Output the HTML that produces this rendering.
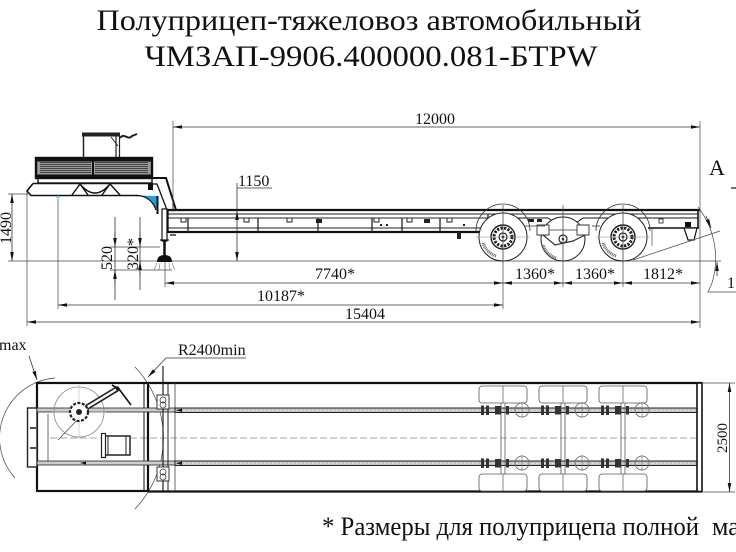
<!DOCTYPE html>
<html><head><meta charset="utf-8">
<style>
html,body{margin:0;padding:0;background:#fff;}
svg{display:block;}
text{font-family:"Liberation Serif","Times New Roman","DejaVu Serif",serif;}
.d{stroke:#333;stroke-width:0.8;fill:none;}
.e{stroke:#444;stroke-width:0.7;fill:none;}
.k{stroke:#111;fill:none;}
.t{font-size:16px;fill:#111;}
</style></head><body>
<svg width="736" height="552" viewBox="0 0 736 552" xmlns="http://www.w3.org/2000/svg" font-family="'Liberation Serif', 'Times New Roman', serif">
<defs>
<marker id="ar" viewBox="0 0 10 4" refX="10" refY="2" markerWidth="10" markerHeight="3.6" markerUnits="userSpaceOnUse" orient="auto-start-reverse"><path d="M0,0L10,2L0,4z" fill="#111"/></marker>
</defs>

<!-- Title -->
<text x="369" y="30" text-anchor="middle" font-family="'Liberation Serif', serif" font-size="30" textLength="545" lengthAdjust="spacingAndGlyphs" fill="#111">Полуприцеп-тяжеловоз автомобильный</text>
<text x="371" y="66" text-anchor="middle" font-family="'Liberation Serif', serif" font-size="30" textLength="453" lengthAdjust="spacingAndGlyphs" fill="#111">ЧМЗАП-9906.400000.081-БТРW</text>

<!-- ================= SIDE VIEW ================= -->
<line x1="8" y1="261" x2="721" y2="261" class="e"/>

<!-- handle on top -->
<rect x="82" y="132.5" width="38" height="4" fill="#222"/>
<line x1="83.5" y1="136" x2="83.5" y2="158" stroke="#222" stroke-width="1.5"/>
<line x1="116" y1="136" x2="116" y2="158" stroke="#222" stroke-width="1.2"/>
<line x1="119.5" y1="136" x2="119.5" y2="158" stroke="#222" stroke-width="1.2"/>
<path d="M111,137 L118,146" stroke="#222" stroke-width="1"/>
<path d="M120,138 C124,132 128,141 132,136 L137,134" stroke="#222" stroke-width="2" fill="none"/>

<!-- equipment block -->
<rect x="36" y="158" width="116" height="20" fill="#9a9a9a" stroke="#111" stroke-width="2.4"/>
<g stroke="#444" stroke-width="0.9">
<line x1="40" y1="162.5" x2="91" y2="162.5"/><line x1="40" y1="164.5" x2="91" y2="164.5"/><line x1="40" y1="166.5" x2="91" y2="166.5"/><line x1="40" y1="168.5" x2="91" y2="168.5"/><line x1="40" y1="170.5" x2="91" y2="170.5"/><line x1="40" y1="172.5" x2="91" y2="172.5"/>
<line x1="95" y1="162.5" x2="148" y2="162.5"/><line x1="95" y1="164.5" x2="148" y2="164.5"/><line x1="95" y1="166.5" x2="148" y2="166.5"/><line x1="95" y1="168.5" x2="148" y2="168.5"/><line x1="95" y1="170.5" x2="148" y2="170.5"/><line x1="95" y1="172.5" x2="148" y2="172.5"/>
</g>
<rect x="36" y="158" width="116" height="3.5" fill="#111"/>
<rect x="36" y="174.5" width="116" height="3.5" fill="#111"/>
<line x1="93" y1="158" x2="93" y2="178" stroke="#111" stroke-width="2"/>
<rect x="38" y="178.5" width="114" height="4.5" fill="#fff" stroke="#111" stroke-width="1.4"/>

<!-- base of gooseneck -->
<path d="M33,183.5 L27,191 L31,195.5 L138,195.5" class="k" stroke-width="1.6"/>
<line x1="33" y1="183.5" x2="152" y2="183.5" stroke="#111" stroke-width="1.6"/>
<path d="M72,195 L80,184 L88,195 M80,184 Q95,202 110,184 M102,195 L110,184 L120,195" class="k" stroke-width="1.4"/>
<path d="M152,178 L166,178 L176,210" class="k" stroke-width="2"/>
<path d="M148,184 L157,184 L167,210" class="k" stroke-width="1.3"/>
<rect x="148" y="183" width="5" height="7" fill="#111"/>
<path d="M138,195.5 Q152,196 155,208 L157,208 L157,196 Z" fill="#1ea2dc"/>
<path d="M136,195.5 Q151,195.5 156,210" class="k" stroke-width="1.2"/>
<line x1="157.5" y1="196" x2="157.5" y2="214" stroke="#111" stroke-width="2"/>
<line x1="173" y1="200" x2="173" y2="211" stroke="#111" stroke-width="1"/>
<circle cx="58" cy="197" r="1.4" fill="#4cc4ee"/>

<!-- landing gear -->
<rect x="162" y="209" width="5" height="32" fill="#fff" stroke="#111" stroke-width="1.2"/>
<line x1="164.5" y1="241" x2="164.5" y2="256" stroke="#111" stroke-width="2.5"/>
<line x1="160" y1="240" x2="169" y2="240" stroke="#111" stroke-width="1.2"/>
<path d="M157,262 Q157,255 164.5,255 Q172,255 172,262 Z" fill="#111"/>
<path d="M157,263 L154,270 M160,263 L159,270 M169,263 L170,270 M172,263 L175,270" stroke="#777" stroke-width="0.6"/>

<!-- deck side -->
<line x1="167" y1="210" x2="700" y2="210" stroke="#111" stroke-width="2.2"/>
<line x1="168" y1="214" x2="698" y2="214" stroke="#222" stroke-width="0.9"/>
<line x1="168" y1="218" x2="500" y2="218" stroke="#222" stroke-width="1"/>
<line x1="168" y1="228" x2="492" y2="228" stroke="#222" stroke-width="1"/>
<line x1="168" y1="232" x2="490" y2="232" stroke="#111" stroke-width="2.2"/>
<line x1="168" y1="210" x2="168" y2="233" stroke="#111" stroke-width="1.3"/>
<line x1="170" y1="235" x2="176" y2="235" stroke="#111" stroke-width="1.3"/>
<g stroke="#222" stroke-width="1.3">
<line x1="188" y1="218" x2="188" y2="232"/><line x1="258" y1="218" x2="258" y2="232"/><line x1="318" y1="218" x2="318" y2="232"/>
<line x1="372" y1="218" x2="372" y2="232"/><line x1="402" y1="218" x2="402" y2="232"/><line x1="440" y1="218" x2="440" y2="232"/><line x1="488" y1="214" x2="488" y2="232"/>
</g>
<g fill="none" stroke="#222" stroke-width="1">
<path d="M181,218 v4 h5 v-4"/><path d="M244,218 v4 h5 v-4"/><path d="M287,218 v4 h5 v-4"/><path d="M374,218 v4 h5 v-4"/><path d="M407,218 v4 h5 v-4"/><path d="M447,218 v4 h5 v-4"/>
</g>
<g fill="#222">
<rect x="316" y="219" width="6" height="4"/><rect x="424" y="219" width="6" height="4"/><rect x="457" y="232" width="4" height="7"/>
<rect x="380" y="224" width="2" height="2"/><rect x="386" y="224" width="2" height="2"/><rect x="463" y="224" width="2" height="2"/>
</g>

<!-- rear frame -->
<path d="M498,218 L548,218 L556,223 L576,223 L583,218 L698,218" class="k" stroke-width="1"/>
<line x1="698" y1="210" x2="698" y2="228" stroke="#111" stroke-width="1.6"/>
<line x1="648" y1="228" x2="699" y2="228" stroke="#111" stroke-width="1.4"/>
<path d="M684,228 L697,228 L694,240 L688,240 Z" fill="#fff" stroke="#111" stroke-width="1.2"/>
<rect x="685" y="222" width="6" height="5" fill="#111"/>
<rect x="659" y="219" width="4" height="4" fill="none" stroke="#222" stroke-width="0.8"/>
<line x1="652" y1="228" x2="652" y2="246" stroke="#444" stroke-width="0.7"/>
<g fill="#222"><rect x="528" y="219" width="6" height="3"/><rect x="537" y="219" width="5" height="3"/></g>

<!-- wheels -->
<g transform="translate(503,237)">
<path d="M-27,-6 A27,27 0 0 1 27,-6" fill="none" stroke="#333" stroke-width="0.8"/>
<circle r="24" fill="#fff" stroke="#222" stroke-width="1"/>
<circle r="12" fill="none" stroke="#222" stroke-width="1.4"/>
<circle r="9" fill="none" stroke="#222" stroke-width="3" stroke-dasharray="2.2,1.4"/>
<circle r="4" fill="#fff" stroke="#222" stroke-width="1.2"/>
<circle r="1.4" fill="#222"/>
<line x1="-27" y1="0" x2="27" y2="0" stroke="#888" stroke-width="0.5"/>
<line x1="0" y1="-27" x2="0" y2="27" stroke="#888" stroke-width="0.5"/>
<path d="M-20,6 A21,21 0 0 0 -7,19" stroke="#666" stroke-width="3" stroke-dasharray="1,0.8" fill="none"/>
</g>
<g transform="translate(563,239)">
<circle r="22" fill="#fff" stroke="#222" stroke-width="1"/>
<circle r="4" fill="#fff" stroke="#222" stroke-width="1.2"/>
<circle r="1.3" fill="#222"/>
<line x1="0" y1="-30" x2="0" y2="24" stroke="#888" stroke-width="0.5"/>
<path d="M-20,6 A21,21 0 0 0 -7,19" stroke="#666" stroke-width="3" stroke-dasharray="1,0.8" fill="none"/>
<path d="M-26,-14 h12 v10 h-12z M14,-14 h12 v10 h-12z" fill="#fff" stroke="#333" stroke-width="0.9"/>
<path d="M-20,-4 L-8,6 L10,2 L22,-4" fill="none" stroke="#333" stroke-width="1.2"/>
<path d="M-14,-9 h28" stroke="#333" stroke-width="0.8"/>
</g>
<g transform="translate(623,237)">
<path d="M-27,-6 A27,27 0 0 1 27,-6" fill="none" stroke="#333" stroke-width="0.8"/>
<circle r="24" fill="#fff" stroke="#222" stroke-width="1"/>
<circle r="12" fill="none" stroke="#222" stroke-width="1.4"/>
<circle r="9" fill="none" stroke="#222" stroke-width="3" stroke-dasharray="2.2,1.4"/>
<circle r="4" fill="#fff" stroke="#222" stroke-width="1.2"/>
<circle r="1.4" fill="#222"/>
<line x1="-27" y1="0" x2="27" y2="0" stroke="#888" stroke-width="0.5"/>
<line x1="0" y1="-27" x2="0" y2="27" stroke="#888" stroke-width="0.5"/>
<path d="M-20,6 A21,21 0 0 0 -7,19" stroke="#666" stroke-width="3" stroke-dasharray="1,0.8" fill="none"/>
</g>
<line x1="525" y1="226" x2="545" y2="226" stroke="#333" stroke-width="0.8"/>
<line x1="592" y1="226" x2="600" y2="226" stroke="#333" stroke-width="0.8"/>

<!-- departure angle -->
<line x1="633" y1="260" x2="720" y2="231" class="e"/>
<path d="M698,207 A84,84 0 0 1 712,283" class="e"/>
<path d="M706,216 L711,228" class="d" marker-end="url(#ar)"/>
<path d="M717,276 L717,262" class="d" marker-end="url(#ar)"/>
<path d="M712,283 L708,292 L736,292" class="e"/>
<text x="727" y="288" class="t">1</text>

<!-- view A -->
<text x="709" y="175" font-size="22" fill="#111">А</text>
<line x1="731" y1="188" x2="736" y2="188" stroke="#111" stroke-width="1.2"/>

<!-- side view dimensions -->
<line x1="173" y1="121" x2="173" y2="212" class="e"/>
<line x1="700" y1="121" x2="700" y2="328" class="e"/>
<line x1="173" y1="127" x2="700" y2="127" class="d" marker-start="url(#ar)" marker-end="url(#ar)"/>
<text x="415" y="124" class="t">12000</text>

<line x1="237" y1="183" x2="237" y2="212" class="d"/>
<line x1="237" y1="211" x2="237" y2="261" class="d" marker-start="url(#ar)" marker-end="url(#ar)"/>
<line x1="237" y1="188" x2="272" y2="188" class="d"/>
<text x="238" y="186" class="t">1150</text>

<line x1="8" y1="194" x2="28" y2="194" class="e"/>
<line x1="12" y1="194" x2="12" y2="261" class="d" marker-start="url(#ar)" marker-end="url(#ar)"/>
<text transform="translate(11,228) rotate(-90)" text-anchor="middle" class="t">1490</text>

<line x1="110" y1="247" x2="160" y2="247" class="e"/>
<line x1="110" y1="270" x2="172" y2="270" class="e"/>
<line x1="115" y1="217" x2="115" y2="300" class="d"/>
<path d="M115,232 L115,247" class="d" marker-end="url(#ar)"/>
<path d="M115,285 L115,270" class="d" marker-end="url(#ar)"/>
<text transform="translate(112,258) rotate(-90)" text-anchor="middle" class="t">520</text>
<line x1="140" y1="217" x2="140" y2="290" class="d"/>
<path d="M140,232 L140,247" class="d" marker-end="url(#ar)"/>
<path d="M140,276 L140,261" class="d" marker-end="url(#ar)"/>
<text transform="translate(138,254) rotate(-90)" text-anchor="middle" class="t">320*</text>

<line x1="165" y1="262" x2="165" y2="287" class="e"/>
<line x1="58" y1="199" x2="58" y2="309" class="e"/>
<line x1="27" y1="192" x2="27" y2="326" class="e"/>
<line x1="503" y1="205" x2="503" y2="309" class="e"/>
<line x1="563" y1="205" x2="563" y2="287" class="e"/>
<line x1="623" y1="205" x2="623" y2="287" class="e"/>

<line x1="165" y1="283" x2="503" y2="283" class="d" marker-start="url(#ar)" marker-end="url(#ar)"/>
<line x1="503" y1="283" x2="563" y2="283" class="d" marker-start="url(#ar)" marker-end="url(#ar)"/>
<line x1="563" y1="283" x2="623" y2="283" class="d" marker-start="url(#ar)" marker-end="url(#ar)"/>
<line x1="623" y1="283" x2="700" y2="283" class="d" marker-start="url(#ar)" marker-end="url(#ar)"/>
<text x="315" y="279" class="t">7740*</text>
<text x="515" y="279" class="t">1360*</text>
<text x="575" y="279" class="t">1360*</text>
<text x="643" y="279" class="t">1812*</text>
<line x1="58" y1="305" x2="503" y2="305" class="d" marker-start="url(#ar)" marker-end="url(#ar)"/>
<text x="257" y="301" class="t">10187*</text>
<line x1="27" y1="322" x2="700" y2="322" class="d" marker-start="url(#ar)" marker-end="url(#ar)"/>
<text x="345" y="319" class="t">15404</text>

<!-- ================= PLAN VIEW ================= -->
<path d="M55,378 A60,60 0 0 0 15,478" class="e" stroke="#555"/>
<path d="M135,367 A103,103 0 0 1 135,509" class="e" stroke="#555"/>
<line x1="58" y1="440" x2="80" y2="417" class="e"/>
<text x="-1" y="350" class="t">max</text>
<path d="M29,356 L37,380" class="d" marker-end="url(#ar)"/>
<text x="178" y="355" class="t">R2400min</text>
<line x1="166" y1="358" x2="246" y2="358" class="d"/>
<path d="M166,358 L148,377" class="d" marker-end="url(#ar)"/>

<line x1="50" y1="438" x2="698" y2="438" stroke="#888" stroke-width="0.7" stroke-dasharray="7,3"/>

<!-- gooseneck plan -->
<rect x="37" y="383" width="111" height="108" fill="none" stroke="#111" stroke-width="2.2"/>
<line x1="144" y1="383" x2="144" y2="491" stroke="#111" stroke-width="1"/>
<rect x="27.5" y="408" width="9.5" height="59" fill="#fff" stroke="#222" stroke-width="1.4"/>
<line x1="30" y1="428" x2="36" y2="428" stroke="#222" stroke-width="1.6"/>
<line x1="30" y1="448" x2="36" y2="448" stroke="#222" stroke-width="1.6"/>
<line x1="48" y1="414" x2="48" y2="461" stroke="#444" stroke-width="0.8"/>
<rect x="37" y="408" width="138" height="4" fill="#ccc" stroke="#222" stroke-width="0.8"/>
<rect x="37" y="461" width="138" height="4" fill="#ccc" stroke="#222" stroke-width="0.8"/>
<path d="M80,463 L86,461.5 L86,464.5 Z" fill="#111"/>

<circle cx="79" cy="412" r="25" fill="none" stroke="#888" stroke-width="0.8"/>
<line x1="52" y1="412" x2="106" y2="412" stroke="#aaa" stroke-width="0.5"/>
<line x1="79" y1="385" x2="79" y2="439" stroke="#aaa" stroke-width="0.5"/>
<line x1="79" y1="412" x2="117" y2="389" stroke="#222" stroke-width="5.5" stroke-linecap="round"/>
<line x1="80" y1="411.5" x2="116" y2="389.5" stroke="#fff" stroke-width="2.2"/>
<circle cx="79" cy="412" r="9" fill="#fff" stroke="#222" stroke-width="2.2" stroke-dasharray="3,1.5"/>
<circle cx="79" cy="412" r="3" fill="#222"/>
<path d="M112,385 L119,389 L131,405" class="k" stroke-width="1.6"/>

<rect x="104" y="436" width="26" height="19" fill="#fff" stroke="#222" stroke-width="1.5"/>
<rect x="101.5" y="433.5" width="4" height="24" fill="#fff" stroke="#222" stroke-width="1.2"/>
<line x1="108" y1="436" x2="108" y2="455" stroke="#222" stroke-width="1"/>
<line x1="126" y1="436" x2="126" y2="455" stroke="#222" stroke-width="1"/>

<line x1="163" y1="366" x2="163" y2="492" stroke="#222" stroke-width="1.2"/>
<line x1="168" y1="383" x2="168" y2="492" stroke="#222" stroke-width="1"/>
<rect x="157" y="395" width="12" height="14" fill="#fff" stroke="#333" stroke-width="1"/>
<circle cx="163" cy="400" r="3" fill="none" stroke="#333" stroke-width="0.8"/>
<circle cx="163" cy="405" r="3" fill="none" stroke="#333" stroke-width="0.8"/>
<rect x="157" y="467" width="12" height="14" fill="#fff" stroke="#333" stroke-width="1"/>
<circle cx="163" cy="472" r="3" fill="none" stroke="#333" stroke-width="0.8"/>
<circle cx="163" cy="477" r="3" fill="none" stroke="#333" stroke-width="0.8"/>

<!-- deck plan -->
<line x1="148" y1="383" x2="702" y2="383" stroke="#111" stroke-width="2.2"/>
<line x1="148" y1="491.5" x2="702" y2="491.5" stroke="#111" stroke-width="2.2"/>
<line x1="175" y1="383" x2="175" y2="491" stroke="#444" stroke-width="0.8"/>
<rect x="175" y="408" width="523" height="4.5" fill="#c4c4c4" stroke="#222" stroke-width="1"/>
<rect x="175" y="461" width="523" height="4.5" fill="#c4c4c4" stroke="#222" stroke-width="1"/>
<line x1="180" y1="410.25" x2="698" y2="410.25" stroke="#eee" stroke-width="0.8" stroke-dasharray="2,2"/>
<line x1="180" y1="463.25" x2="698" y2="463.25" stroke="#eee" stroke-width="0.8" stroke-dasharray="2,2"/>
<path d="M176,410.2 L182,408.5 L182,412 Z M176,463.2 L182,461.5 L182,465 Z" fill="#111"/>
<rect x="697" y="383" width="5" height="108.5" fill="#fff" stroke="#111" stroke-width="1.6"/>

<g id="ax1">
<rect x="479" y="386" width="48" height="17" rx="3" fill="#fff" stroke="#555" stroke-width="0.8"/>
<rect x="479" y="474" width="48" height="17" rx="3" fill="#fff" stroke="#555" stroke-width="0.8"/>
<line x1="503" y1="386" x2="503" y2="403" stroke="#555" stroke-width="0.7"/>
<line x1="503" y1="474" x2="503" y2="491" stroke="#555" stroke-width="0.7"/>
<line x1="501" y1="403" x2="501" y2="474" stroke="#555" stroke-width="0.8"/>
<line x1="505" y1="403" x2="505" y2="474" stroke="#555" stroke-width="0.8"/>
<g fill="#333">
<rect x="481" y="405.5" width="3" height="9.5"/><rect x="486" y="405.5" width="3" height="9.5"/><rect x="495" y="406" width="6" height="8.5"/><rect x="506" y="406" width="3" height="8.5"/>
<rect x="481" y="458.5" width="3" height="9.5"/><rect x="486" y="458.5" width="3" height="9.5"/><rect x="495" y="459" width="6" height="8.5"/><rect x="506" y="459" width="3" height="8.5"/>
</g>
<circle cx="522" cy="410" r="7" fill="none" stroke="#666" stroke-width="0.8"/>
<circle cx="522" cy="463" r="7" fill="none" stroke="#666" stroke-width="0.8"/>
<line x1="522" y1="402" x2="522" y2="418" stroke="#666" stroke-width="0.6"/>
<line x1="522" y1="455" x2="522" y2="471" stroke="#666" stroke-width="0.6"/>
</g>
<use href="#ax1" x="60"/>
<use href="#ax1" x="120"/>

<line x1="703" y1="383" x2="735" y2="383" class="e"/>
<line x1="703" y1="492" x2="735" y2="492" class="e"/>
<line x1="729.5" y1="383" x2="729.5" y2="492" class="d" marker-start="url(#ar)" marker-end="url(#ar)"/>
<text transform="translate(727,438) rotate(-90)" text-anchor="middle" font-size="15" fill="#111">2500</text>

<text x="322" y="535" font-size="26" textLength="377" lengthAdjust="spacingAndGlyphs" fill="#111">* Размеры для полуприцепа полной</text>
<text x="712" y="535" font-size="26" fill="#111">массы</text>
</svg>
</body></html>
